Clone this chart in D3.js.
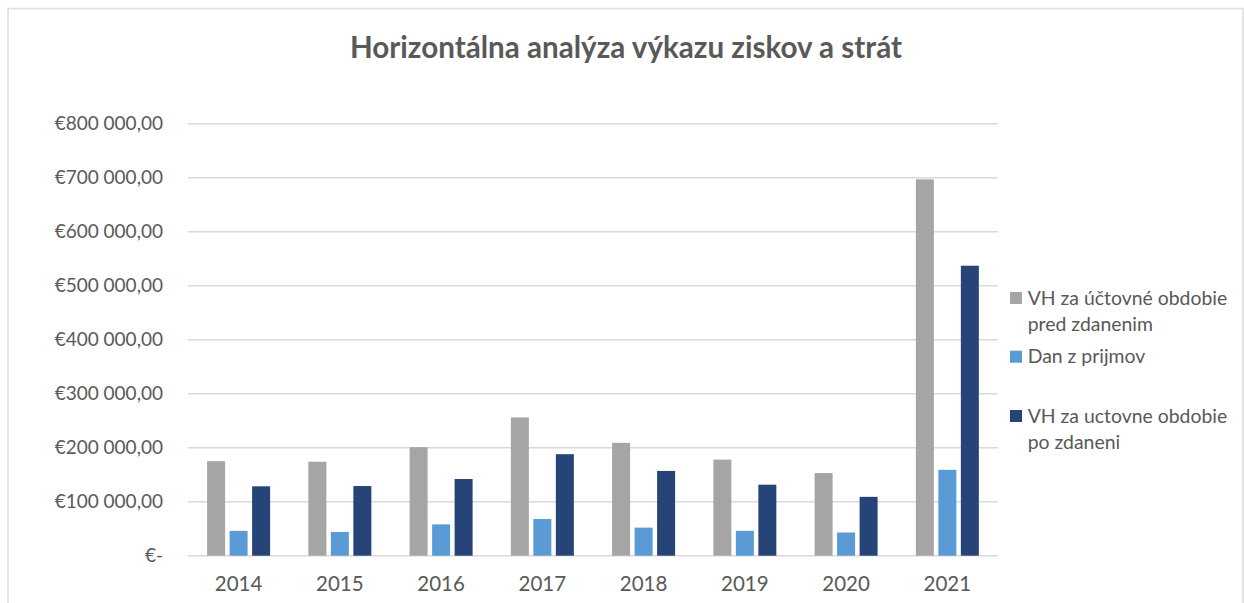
<!DOCTYPE html>
<html><head><meta charset="utf-8">
<script src="https://cdn.jsdelivr.net/npm/d3@7"></script>
<style>body{margin:0;background:#fff;} svg{display:block;font-family:Lato, "Open Sans", sans-serif;}</style>
</head><body>
<svg id="c" width="1244" height="603"></svg>
<script>
const years = ["2014","2015","2016","2017","2018","2019","2020","2021"];
const seriesNames = ["VH za účtovné obdobie pred zdanenim","Dan z prijmov","VH za uctovne obdobie po zdaneni"];
const vhPred = [175000,174000,201000,256000,209000,178000,153000,697000];
const dan = [46000,44000,58000,68000,52000,46000,43000,159000];
const vhPo = [128500,129000,142000,188000,157000,131500,109000,537000];
const yTicks = [0,100000,200000,300000,400000,500000,600000,700000,800000];
const legendLines = [["VH za účtovné obdobie","pred zdanenim"],["Dan z prijmov"],["VH za uctovne obdobie","po zdaneni"]];
const colors = ["#a5a5a5","#5b9bd5","#264478"];
const values = [vhPred, dan, vhPo];

const svg = d3.select("#c");
// chart border
svg.append("rect").attr("x",8).attr("y",8.5).attr("width",1235).attr("height",620)
  .attr("fill","none").attr("stroke","#e0e0e0").attr("stroke-width",1.8);

svg.append("text").attr("x",626).attr("y",58).attr("text-anchor","middle")
  .attr("font-size",29.6).attr("font-weight","bold").attr("fill","#595959")
  .text("Horizontálna analýza výkazu ziskov a strát");

const y = d3.scaleLinear().domain([0,800000]).range([555.7,123.7]);
const x0 = d3.scaleBand().domain(years).range([188,998]);
const x1 = d3.scaleBand().domain(d3.range(3)).range([19.1,82.1]).paddingInner(0.2);

const fmt = v => v===0 ? "€-" : "€" + d3.format(",.2f")(v).replace(/,/g," ").replace(".",",");

// gridlines
svg.append("g").selectAll("line").data(yTicks).join("line")
  .attr("x1",188).attr("x2",998).attr("y1",d=>y(d)).attr("y2",d=>y(d))
  .attr("stroke","#d9d9d9").attr("stroke-width",1.5);

// y axis labels
const yAxis = d3.axisLeft(y).tickValues(yTicks).tickFormat(fmt).tickSize(0).tickPadding(0);
const gy = svg.append("g").attr("transform","translate(163,0)").call(yAxis);
gy.select(".domain").remove();
gy.selectAll("text").attr("font-size",19).attr("fill","#595959").attr("font-family","Lato, sans-serif");

// bars
const grp = svg.append("g").selectAll("g").data(years).join("g")
  .attr("transform",d=>`translate(${x0(d)},0)`);
grp.selectAll("rect").data((d,i)=>values.map((s,k)=>({k, v:s[i]}))).join("rect")
  .attr("x",d=>x1(d.k)).attr("width",x1.bandwidth())
  .attr("y",d=>y(d.v)).attr("height",d=>y(0)-y(d.v))
  .attr("fill",d=>colors[d.k]);

// x axis labels
const xAxis = d3.axisBottom(x0).tickSize(0).tickPadding(0);
const gx = svg.append("g").attr("transform","translate(0,573)").call(xAxis);
gx.select(".domain").remove();
gx.selectAll("text").attr("font-size",20.5).attr("fill","#595959").attr("font-family","Lato, sans-serif").attr("dy","0.9em");

// legend
const legendY = [298, 356.7, 416];
const lg = svg.append("g").selectAll("g").data(seriesNames).join("g")
  .attr("transform",(d,i)=>`translate(1010,${legendY[i]})`);
lg.append("rect").attr("x",0).attr("y",-6).attr("width",12).attr("height",12).attr("fill",(d,i)=>colors[i]);
lg.append("text").attr("x",17.7).attr("font-size",19.4).attr("fill","#595959")
  .selectAll("tspan").data((d,i)=>legendLines[i]).join("tspan")
  .attr("x",17.7).attr("y",(d,j)=>j*26).attr("dy","0.35em").text(d=>d);
</script>
</body></html>
